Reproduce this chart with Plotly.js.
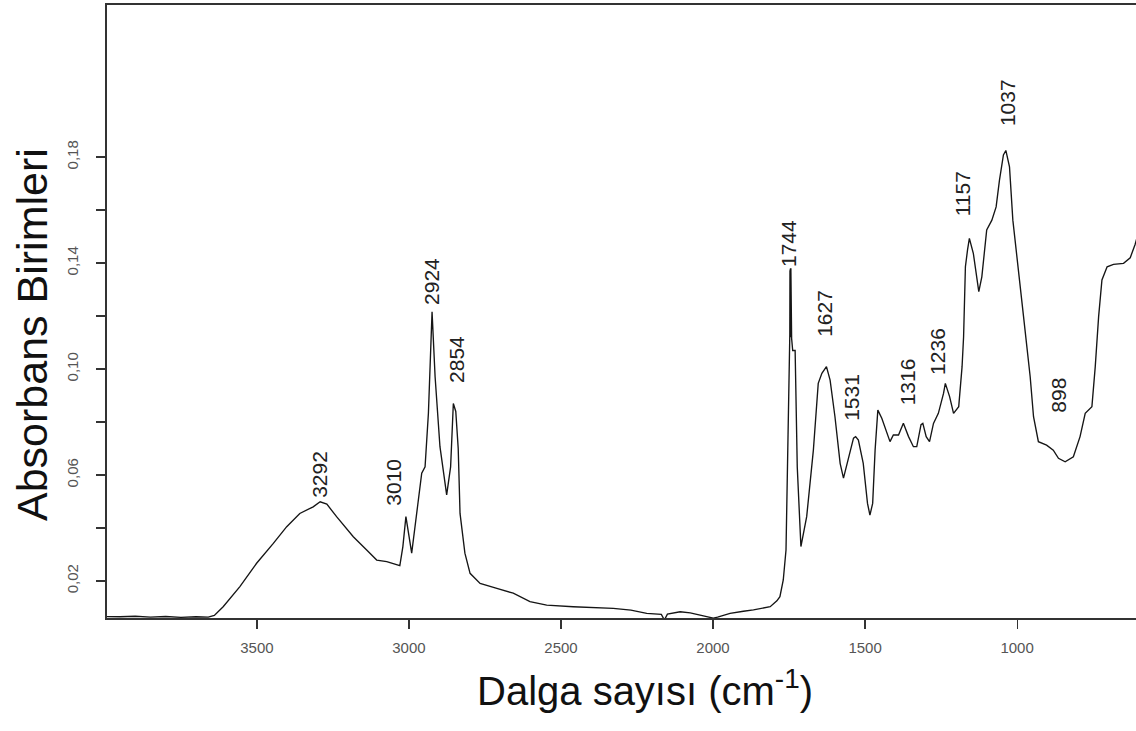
<!DOCTYPE html>
<html>
<head>
<meta charset="utf-8">
<script src="https://cdn.plot.ly/plotly-3.0.1.min.js"></script>
<style>
html,body{margin:0;padding:0;background:#fff;}
#chart{width:1136px;height:731px;}
</style>
</head>
<body>
<div id="chart"></div>
<script>
// Wavenumber (cm-1) and absorbance
var wavenumber = [4000,3950,3900,3850,3800,3750,3700,3660,3640,3611,3556,3501,3446,3402,3359,3315,3292,3270,3238,3183,3139,3106,3073,3040,3030,3020,3010,2991,2975,2958,2947,2936,2924,2914,2898,2876,2863,2854,2846,2838,2832,2816,2799,2766,2711,2657,2602,2547,2460,2400,2328,2270,2218,2170,2160,2150,2131,2108,2075,2043,2010,1999,1985,1944,1900,1867,1812,1790,1780,1769,1760,1756,1750,1747.5,1747,1746.5,1746,1745.5,1745,1744.5,1744,1743.5,1743,1742.5,1742,1741.5,1738,1730,1723,1711,1692,1670,1654,1642,1627,1615,1599,1582,1571,1555,1538,1531,1522,1506,1492,1484,1475,1467,1458,1445,1429,1418,1407,1390,1374,1357,1341,1330,1316,1310,1299,1288,1275,1259,1242,1236,1222,1209,1192,1181,1176,1170,1163,1157,1144,1126,1116,1100,1083,1069,1058,1045,1037,1025,1014,1001,979,957,946,930,903,881,864,842,815,793,776,754,743,732,721,704,683,650,628,612,600];
var absorbance = [0.0066,0.0065,0.0067,0.0064,0.0066,0.0063,0.0065,0.0064,0.0070,0.0103,0.0179,0.0267,0.0342,0.0405,0.0455,0.0480,0.0499,0.0490,0.0443,0.0367,0.0317,0.0279,0.0273,0.0262,0.0258,0.0330,0.0443,0.0305,0.0455,0.0607,0.0631,0.0833,0.1216,0.0971,0.0707,0.0525,0.0631,0.0870,0.0840,0.0700,0.0455,0.0305,0.0229,0.0191,0.0172,0.0154,0.0122,0.0109,0.0103,0.0101,0.0097,0.0090,0.0078,0.0074,0.0053,0.0075,0.0078,0.0084,0.0080,0.0072,0.0065,0.0060,0.0064,0.0078,0.0086,0.0091,0.0103,0.0125,0.0141,0.0204,0.0317,0.0631,0.1110,0.1130,0.1370,0.1120,0.1378,0.1120,0.1380,0.1120,0.1380,0.1120,0.1378,0.1120,0.1372,0.1115,0.1070,0.1070,0.0630,0.0330,0.0443,0.0694,0.0946,0.0984,0.1009,0.0958,0.0820,0.0644,0.0588,0.0657,0.0739,0.0745,0.0732,0.0644,0.0493,0.0449,0.0493,0.0694,0.0845,0.0814,0.0757,0.0726,0.0751,0.0751,0.0795,0.0745,0.0707,0.0707,0.0790,0.0795,0.0745,0.0726,0.0795,0.0833,0.0908,0.0946,0.0896,0.0833,0.0858,0.1009,0.1122,0.1386,0.1450,0.1493,0.1437,0.1292,0.1348,0.1525,0.1562,0.1612,0.1713,0.1808,0.1825,0.1763,0.1562,0.1420,0.1200,0.0971,0.0820,0.0726,0.0713,0.0694,0.0663,0.0650,0.0669,0.0745,0.0833,0.0858,0.1009,0.1197,0.1336,0.1386,0.1395,0.1399,0.1420,0.1470,0.1520];

// Peak labels and their label centre positions (data units)
var peakLabels = ["3292","3010","2924","2854","1744","1627","1531","1316","1236","1157","1037","898"];
var peakLabelX = [3293,3050,2928,2842,1750,1632,1543,1362,1260,1181,1033,865];
var peakLabelY = [0.0604,0.0574,0.1332,0.1038,0.1472,0.1212,0.0895,0.0950,0.1065,0.1660,0.2004,0.0900];

var xTickVals = [3500,3000,2500,2000,1500,1000];
var xTickText = ["3500","3000","2500","2000","1500","1000"];
var yTickVals = [0.02,0.06,0.10,0.14,0.18];
var yTickText = ["0,02","0,06","0,10","0,14","0,18"];
var yMinorTickVals = [0.04,0.08,0.12,0.16];

var xTitle = "Dalga sayısı (cm<sup>-1</sup>)";
var yTitle = "Absorbans Birimleri";

var FONT = "Liberation Sans, Arial, sans-serif";

var annotations = peakLabels.map(function(t,i){
  return {x: peakLabelX[i], y: peakLabelY[i], xref:'x', yref:'y', text:t,
    showarrow:false, textangle:-90, xanchor:'center', yanchor:'middle',
    font:{family:FONT, size:21, color:'#222'}};
});
annotations.push({xref:'paper', yref:'paper', x:0.5228, y:-0.1142, text:xTitle,
  showarrow:false, xanchor:'center', yanchor:'middle',
  font:{family:FONT, size:40, color:'#111'}});
annotations.push({xref:'paper', yref:'paper', x:-0.0729, y:0.4633, text:yTitle,
  showarrow:false, textangle:-90, xanchor:'center', yanchor:'middle',
  font:{family:FONT, size:43, color:'#111'}});

var trace = {x: wavenumber, y: absorbance, type:'scatter', mode:'lines',
  line:{color:'#151515', width:1.35}, hoverinfo:'skip'};

var layout = {
  width:1136, height:731,
  margin:{l:107, r:0, t:5, b:113},
  paper_bgcolor:'#fff', plot_bgcolor:'#fff',
  showlegend:false,
  font:{family:FONT},
  xaxis:{range:[3993,609], tickmode:'array', tickvals:xTickVals, ticktext:xTickText,
    ticks:'outside', ticklen:9, tickwidth:1.2, tickcolor:'#333',
    showline:true, linecolor:'#333', linewidth:1.6, mirror:true,
    showgrid:false, zeroline:false, ticklabelstandoff:6,
    tickfont:{family:FONT, size:15, color:'#555'}},
  yaxis:{range:[0.00604,0.2374], tickmode:'array', tickvals:yTickVals, ticktext:yTickText,
    ticks:'outside', ticklen:9, tickwidth:1.2, tickcolor:'#333', tickangle:-90,
    minor:{tickmode:'array', tickvals:yMinorTickVals, ticks:'outside', ticklen:9, tickwidth:1.2, tickcolor:'#333', showgrid:false},
    showline:true, linecolor:'#333', linewidth:1.6,
    showgrid:false, zeroline:false, ticklabelstandoff:12,
    tickfont:{family:FONT, size:15, color:'#555'}},
  annotations: annotations
};

Plotly.newPlot('chart', [trace], layout, {staticPlot:true, displayModeBar:false});
</script>
</body>
</html>
